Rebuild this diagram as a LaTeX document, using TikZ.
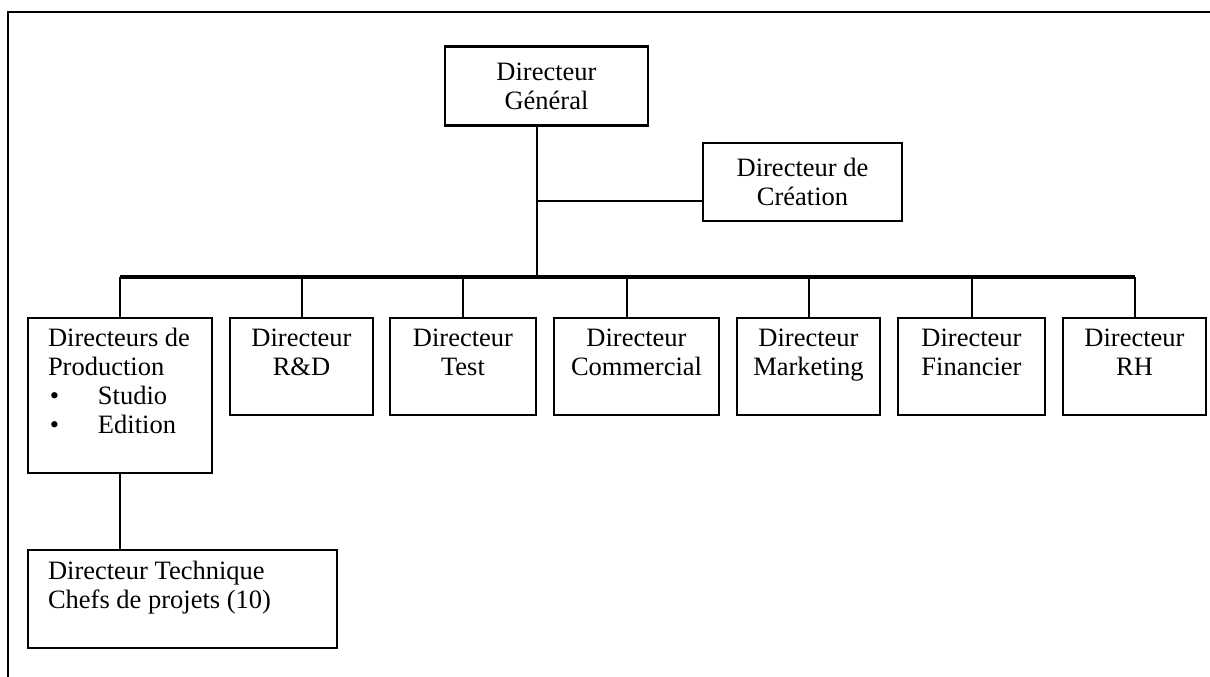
\documentclass[tikz,border=0pt]{standalone}
\usepackage{fontspec}
\setmainfont{Liberation Serif}
\usepackage{tikz}
\usetikzlibrary{%
  positioning,%
  calc%
}

\begin{document}
\begin{tikzpicture}[
    x=1pt, y=-1pt,
    box/.style={draw, line width=2.4pt, inner sep=0pt, outer sep=0pt, align=center,
    font=\fontsize{26.5}{29}\selectfont},
    lowbox/.style={box, minimum height=97pt},
    link/.style={line width=2pt},
    busline/.style={line width=3.5pt}
]
    \tikzset{leftbox/.style={box, align=flush left, inner xsep=17pt}}
    \useasboundingbox (0,0) rectangle (1210,677);
    \draw[line width=2pt] (8,677) -- (8,12) -- (1210,12);
    \node[box, minimum width=203pt, minimum height=79pt] (dg) at (546.5,86) {Directeur\\Général};
    \node[box, minimum width=199pt, minimum height=78pt] (crea) at (802.5,182) {Directeur de\\Création};
    \node[leftbox, anchor=north west, text width=150pt, minimum height=155pt] (prod) at (28,318)
        {\hspace*{3pt}Directeurs de\\\hspace*{3pt}Production\\\hspace*{5pt}\makebox[48pt][l]{\textbullet}Studio\\\hspace*{5pt}\makebox[48pt][l]{\textbullet}Edition\\\mbox{}};
    \node[lowbox, right=18pt of prod.north east, anchor=north west, minimum width=143pt] (rd) {Directeur\\R\&D\\\mbox{}};
    \node[lowbox, right=17pt of rd.north east, anchor=north west, minimum width=146pt] (test) {Directeur\\Test\\\mbox{}};
    \node[lowbox, right=18pt of test.north east, anchor=north west, minimum width=165pt] (comm) {Directeur\\Commercial\\\mbox{}};
    \node[lowbox, right=18pt of comm.north east, anchor=north west, minimum width=143pt] (mkt) {Directeur\\Marketing\\\mbox{}};
    \node[lowbox, right=18pt of mkt.north east, anchor=north west, minimum width=147pt] (fin) {Directeur\\Financier\\\mbox{}};
    \node[lowbox, right=18pt of fin.north east, anchor=north west, minimum width=143pt] (rh) {Directeur\\RH\\\mbox{}};
    \node[leftbox, below=77pt of prod.south west, anchor=north west, text width=275pt, minimum height=98pt] (tech)
        {\hspace*{3pt}Directeur Technique\\\hspace*{3pt}Chefs de projets (10)\\\mbox{}};
    \coordinate (top) at ([xshift=-9.5pt]dg.south);
    \coordinate (tee) at (537,201);
    \coordinate (bus) at (537,277);
    \coordinate (commtop) at ([xshift=-10pt]comm.north);
    \draw[link] (top) -- (bus);
    \draw[link] (tee) -- (tee -| crea.west);
    \foreach \n in {prod,rd,test,mkt,fin,rh}
        \draw[link] (bus -| \n.north) -- (\n.north);
    \draw[link] (bus -| commtop) -- (commtop);
    \draw[busline] (bus -| prod.north) -- (bus -| rh.north);
    \draw[link] (prod.south) -- (prod.south |- tech.north);
\end{tikzpicture}
\end{document}
